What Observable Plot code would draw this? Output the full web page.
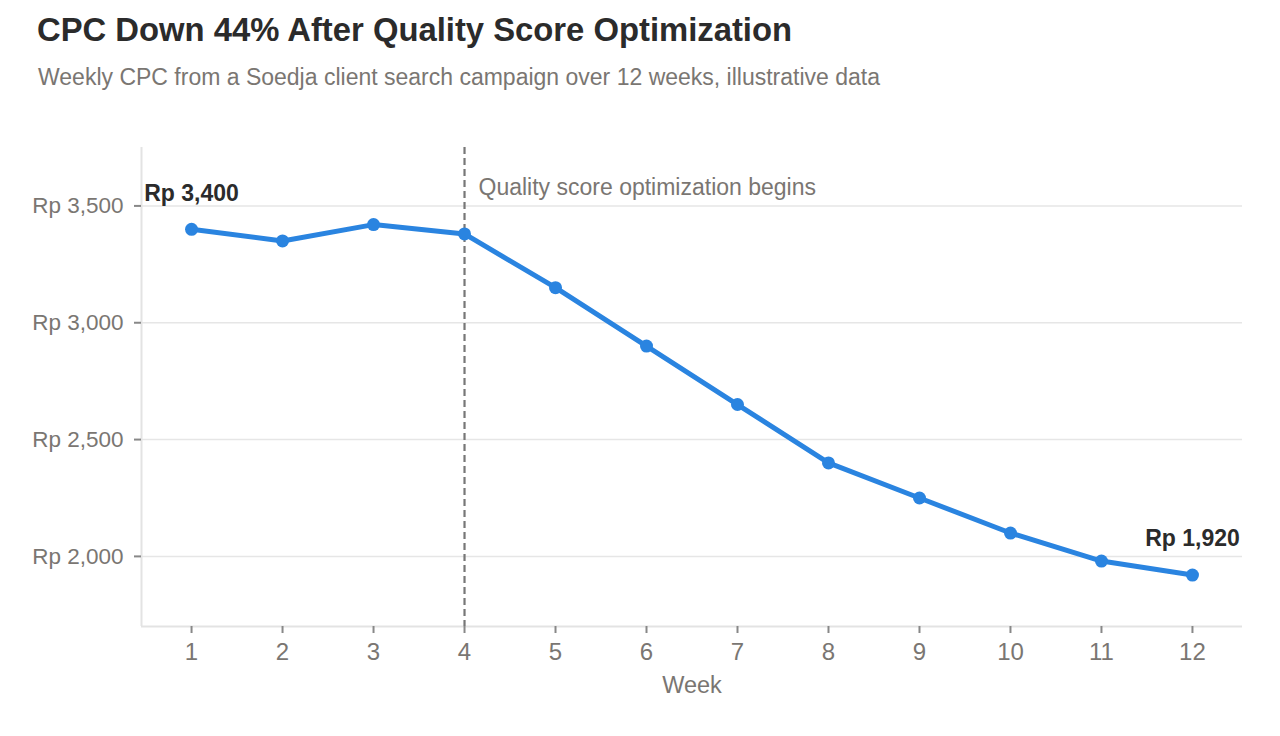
<!DOCTYPE html>
<html>
<head>
<meta charset="utf-8">
<script src="https://cdn.jsdelivr.net/npm/d3@7"></script>
<script src="https://cdn.jsdelivr.net/npm/@observablehq/plot@0.6"></script>
<style>
  html, body { margin: 0; padding: 0; background: #fff; }
  body { width: 1280px; height: 736px; position: relative; overflow: hidden; font-family: "Liberation Sans", Arial, sans-serif; }
  #title { position: absolute; left: 37px; top: 13.5px; font-size: 32.8px; line-height: 1; font-weight: bold; color: #2b2b2b; white-space: nowrap; }
  #subtitle { position: absolute; left: 38px; top: 65.5px; font-size: 23px; line-height: 1; color: #7a7672; white-space: nowrap; }
  #chart { position: absolute; left: 0; top: 100px; }
</style>
</head>
<body>
<div id="title">CPC Down 44% After Quality Score Optimization</div>
<div id="subtitle">Weekly CPC from a Soedja client search campaign over 12 weeks, illustrative data</div>
<div id="chart"></div>
<script>
const weeks = [1, 2, 3, 4, 5, 6, 7, 8, 9, 10, 11, 12];
const cpc = [3400, 3350, 3420, 3380, 3150, 2900, 2650, 2400, 2250, 2100, 1980, 1920];
const yTicks = [2000, 2500, 3000, 3500];
const xDomain = [0.45, 12.55];
const yDomain = [1700, 3750];
const eventWeek = [4];
const eventLabel = ["Quality score optimization begins"];
const eventLabelY = [3580];
const labeledWeeks = [1, 12];

const data = weeks.map((w, i) => ({week: w, cpc: cpc[i]}));
const labeled = data.filter(d => labeledWeeks.includes(d.week));
const fmt = d => "Rp " + d3.format(",")(d);

const blue = "#2a84e0";
const gray = "#7a7672";

const chart = Plot.plot({
  width: 1280,
  height: 636,
  marginTop: 47,
  marginBottom: 110,
  marginLeft: 141,
  marginRight: 38,
  style: { fontFamily: "Liberation Sans, Arial, sans-serif", background: "transparent" },
  x: { domain: xDomain },
  y: { domain: yDomain },
  marks: [
    Plot.gridY(yTicks, { stroke: "#e6e6e6", strokeOpacity: 1, strokeWidth: 1.5 }),
    Plot.ruleX([xDomain[0]], { stroke: "#e3e3e3", strokeWidth: 2 }),
    Plot.ruleY([yDomain[0]], { stroke: "#e3e3e3", strokeWidth: 2 }),
    Plot.axisY({ ticks: yTicks, tickFormat: fmt, tickSize: 7, tickPadding: 11, stroke: "#888", strokeWidth: 2, fill: gray, fontSize: 22.5, label: null }),
    Plot.axisX({ ticks: weeks, tickFormat: d => String(d), tickSize: 7, tickPadding: 9, stroke: "#888", strokeWidth: 2, fill: gray, fontSize: 24, label: null }),
    Plot.ruleX(eventWeek, { stroke: "#777", strokeWidth: 2.2, strokeDasharray: "7,4" }),
    Plot.text(eventLabel, { x: () => eventWeek[0], y: () => eventLabelY[0], text: d => d, textAnchor: "start", dx: 14, fill: gray, fontSize: 23 }),
    Plot.line(data, { x: "week", y: "cpc", stroke: blue, strokeWidth: 5 }),
    Plot.dot(data, { x: "week", y: "cpc", fill: blue, r: 6.5 }),
    Plot.text(labeled, { x: "week", y: "cpc", text: d => fmt(d.cpc), dy: -36, fill: "#2b2b2b", fontWeight: "bold", fontSize: 23 }),
    Plot.text(["Week"], { frameAnchor: "bottom", dy: 66, fill: gray, fontSize: 23.5 })
  ]
});
document.getElementById("chart").appendChild(chart);
</script>
</body>
</html>
